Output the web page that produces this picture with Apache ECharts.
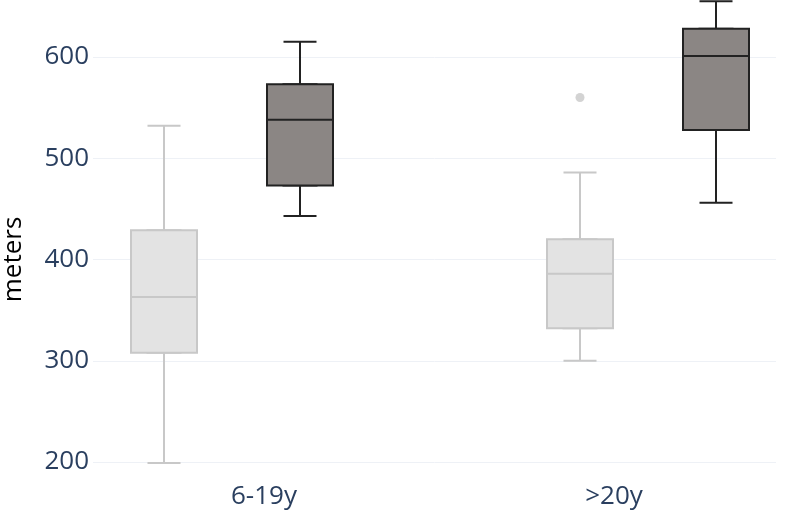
<!DOCTYPE html>
<html>
<head>
<meta charset="utf-8">
<script src="https://cdn.jsdelivr.net/npm/echarts@6/dist/echarts.min.js"></script>
<style>
  html, body { margin: 0; padding: 0; background: #fff; }
  #main { width: 788px; height: 525px; }
</style>
</head>
<body>
<div id="main"></div>
<script>
var categories = ['6-19y', '>20y']
// [min, Q1, median, Q3, max]
var lightBoxes = [
  [199, 308, 363, 429, 532],
  [300, 332, 386, 420, 486]
]
var darkBoxes = [
  [443, 473, 538, 573, 615],
  [456, 528, 601, 628, 655]
]
var lightOutliers = [[1, 560]]
var yTicks = { min: 100, max: 700, interval: 100 }

var chart = echarts.init(document.getElementById('main'))
var font = '"Open Sans", "Noto Sans", sans-serif'
var gridTop = -44.25
var gridHeight = 607.5

// the box itself, whiskers collapsed onto the box edges
function boxOnly(list) {
  return list.map(function (d) { return [d[1], d[1], d[2], d[3], d[3]] })
}

function hiddenY(i) {
  return {
    type: 'value', gridIndex: i, min: yTicks.min, max: yTicks.max, interval: yTicks.interval,
    axisLabel: { show: false }, axisLine: { show: false }, axisTick: { show: false },
    splitLine: { show: false }
  }
}
function hiddenX(i) {
  return {
    type: 'category', gridIndex: i, data: categories,
    axisLabel: { show: false }, axisLine: { show: false }, axisTick: { show: false },
    splitLine: { show: false }
  }
}
function boxGrid(left, width, top, height) {
  return { left: left, width: width, top: top, height: height, outerBoundsMode: 'none', containLabel: false }
}

var option = {
  backgroundColor: '#fff',
  animation: false,
  grid: [
    boxGrid(-44, 832, gridTop, gridHeight),   // 0 light boxes
    boxGrid(92, 832, gridTop, gridHeight),    // 1 dark boxes
    boxGrid(93, 683, gridTop, gridHeight),    // 2 y axis + grid lines
    boxGrid(89, 700, 0, 480),                 // 3 category labels
    boxGrid(-44, 832, gridTop, gridHeight),   // 4 light whiskers
    boxGrid(92, 832, gridTop, gridHeight)     // 5 dark whiskers
  ],
  xAxis: [
    hiddenX(0),
    hiddenX(1),
    hiddenX(2),
    {
      type: 'category', gridIndex: 3, data: categories,
      axisLine: { show: false }, axisTick: { show: false },
      axisLabel: { margin: 4, color: '#2a3f5f', fontSize: 26, fontFamily: font }
    },
    hiddenX(4),
    hiddenX(5)
  ],
  yAxis: [
    hiddenY(0),
    hiddenY(1),
    {
      type: 'value', gridIndex: 2, min: yTicks.min, max: yTicks.max, interval: yTicks.interval,
      name: 'meters', nameLocation: 'middle', nameGap: 66, nameRotate: 90,
      nameTextStyle: { color: '#000', fontSize: 26, fontFamily: font },
      axisLine: { show: false }, axisTick: { show: false },
      axisLabel: { margin: 4, color: '#2a3f5f', fontSize: 26, fontFamily: font },
      splitLine: { lineStyle: { color: '#eef1f6', width: 1 } }
    },
    { type: 'value', gridIndex: 3, show: false },
    hiddenY(4),
    hiddenY(5)
  ],
  series: [
    // whiskers with half-width caps (drawn below the boxes)
    {
      name: 'lightWhisker', type: 'boxplot', xAxisIndex: 4, yAxisIndex: 4, z: 1,
      boxWidth: [33, 33], data: lightBoxes,
      itemStyle: { color: '#e3e3e3', borderColor: '#c8c8c8', borderWidth: 2 }
    },
    {
      name: 'light', type: 'boxplot', xAxisIndex: 0, yAxisIndex: 0, z: 2,
      boxWidth: [66, 66], data: boxOnly(lightBoxes),
      itemStyle: { color: '#e3e3e3', borderColor: '#c8c8c8', borderWidth: 2 }
    },
    {
      name: 'lightOut', type: 'scatter', xAxisIndex: 0, yAxisIndex: 0,
      data: lightOutliers, symbolSize: 9, z: 5,
      itemStyle: { color: '#c8c8c8' }
    },
    {
      name: 'darkWhisker', type: 'boxplot', xAxisIndex: 5, yAxisIndex: 5, z: 1,
      boxWidth: [33, 33], data: darkBoxes,
      itemStyle: { color: '#8b8684', borderColor: '#222222', borderWidth: 2 }
    },
    {
      name: 'dark', type: 'boxplot', xAxisIndex: 1, yAxisIndex: 1, z: 2,
      boxWidth: [66, 66], data: boxOnly(darkBoxes),
      itemStyle: { color: '#8b8684', borderColor: '#222222', borderWidth: 2 }
    }
  ]
}
chart.setOption(option)
</script>
</body>
</html>
